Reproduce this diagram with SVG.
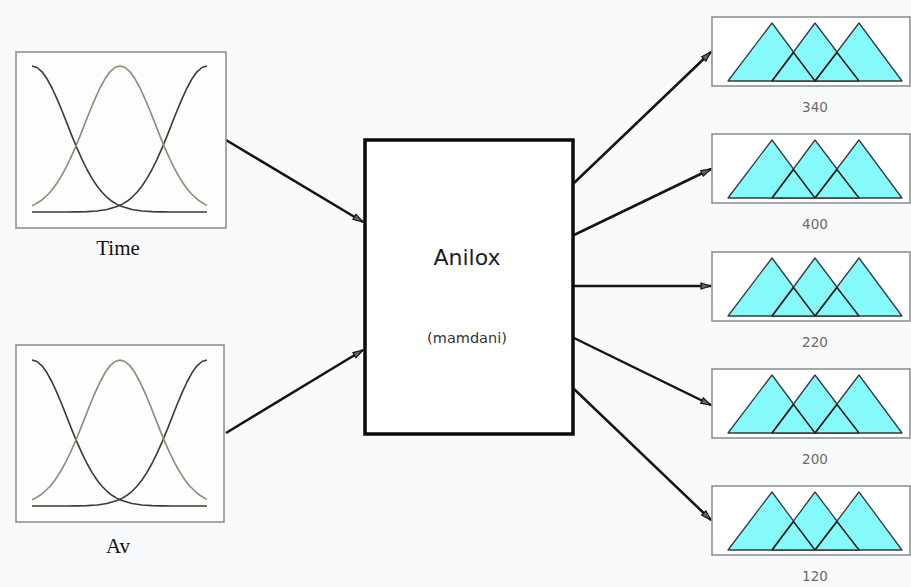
<svg xmlns="http://www.w3.org/2000/svg" xmlns:xlink="http://www.w3.org/1999/xlink" width="911" height="587" viewBox="0 0 911 587">
<style>
.inbox{fill:#fdfdfe;stroke:#8a8a8a;stroke-width:1.5}
.outbox{fill:#ffffff;stroke:#8a8a8a;stroke-width:1.5}
.c1{fill:none;stroke:#3c3c30;stroke-width:1.6;stroke-linejoin:round}
.c2{fill:none;stroke:#8c8c74;stroke-width:1.6;stroke-linejoin:round}
.tri{fill:#86fafa;stroke:#3a3a3a;stroke-width:1.3;stroke-linejoin:round}
.serif{font-family:"Liberation Serif","Times New Roman",serif;font-size:21px;fill:#111;text-anchor:middle}
.lbl{font-family:"DejaVu Sans",Verdana,sans-serif;font-size:13.5px;fill:#6a6a6a;text-anchor:middle}
.conn{stroke:#141414;stroke-width:2.5;fill:none;marker-end:url(#ah)}
</style>
<defs>
<marker id="ah" markerUnits="userSpaceOnUse" markerWidth="12" markerHeight="8" refX="11" refY="4" orient="auto">
<path d="M1,1 L11,4 L1,7 Z" fill="#666" stroke="#141414" stroke-width="1.2"/>
</marker>
<g id="mf">
<path class="c1" d="M32,66 L37,67.5 L42,71.8 L47,78.8 L52,88 L57,98.9 L62,110.8 L67,123.4 L72,136.1 L77,148.2 L82,159.4 L87,169.5 L92,178.4 L97,186 L102,192.2 L107,197.3 L112,201.3 L117,204.4 L122,206.6 L132,209.5 L142,211 L152,211.6 L162,211.9 L172,212 L207,212"/>
<path class="c1" d="M207,66 L202,67.5 L197,71.8 L192,78.8 L187,88 L182,98.9 L177,110.8 L172,123.4 L167,136.1 L162,148.2 L157,159.4 L152,169.5 L147,178.4 L142,186 L137,192.2 L132,197.3 L127,201.3 L122,204.4 L117,206.6 L107,209.5 L97,211 L87,211.6 L77,211.9 L67,212 L32,212"/>
<path class="c2" d="M32,205.8 L35,204.4 L40,201.3 L45,197.3 L50,192.2 L55,186 L60,178.4 L65,169.5 L70,159.4 L75,148.2 L80,136.1 L85,123.4 L90,110.8 L95,98.9 L100,88 L105,78.8 L110,71.8 L115,67.5 L120,66 L125,67.5 L130,71.8 L135,78.8 L140,88 L145,98.9 L150,110.8 L155,123.4 L160,136.1 L165,148.2 L170,159.4 L175,169.5 L180,178.4 L185,186 L190,192.2 L195,197.3 L200,201.3 L205,204.4 L207,205.4"/>
</g>
<g id="tris">
<rect class="outbox" x="0" y="0" width="198" height="69"/>
<path class="tri" d="M16,64 L60,6 L103,64 Z"/>
<path class="tri" d="M60,64 L103,6 L147,64 Z"/>
<path class="tri" d="M103,64 L147,6 L190,64 Z"/>
<path d="M60,64 L81.5,35.5 L103,64 L125,35.5 L147,64" fill="none" stroke="#1e1e1e" stroke-width="1.5" stroke-linejoin="round"/>
</g>
</defs>
<rect width="911" height="587" fill="#f9fafc"/>
<g id="connectors">
<line class="conn" x1="226" y1="140" x2="363" y2="222"/>
<line class="conn" x1="226" y1="433" x2="363" y2="350"/>
<line class="conn" x1="574" y1="183" x2="711" y2="52"/>
<line class="conn" x1="574" y1="235" x2="711" y2="169"/>
<line class="conn" x1="574" y1="286" x2="711" y2="286"/>
<line class="conn" x1="574" y1="338" x2="711" y2="405"/>
<line class="conn" x1="574" y1="389" x2="711" y2="520"/>
</g>
<g id="time">
<rect class="inbox" x="16" y="52" width="210" height="176"/>
<use xlink:href="#mf"/>
<text class="serif" x="118" y="255">Time</text>
</g>
<g id="av">
<rect class="inbox" x="16" y="345" width="208" height="177"/>
<use xlink:href="#mf" transform="translate(0,294)"/>
<text class="serif" x="118" y="553">Av</text>
</g>
<g id="anilox">
<rect x="365" y="140" width="208" height="294" fill="#ffffff" stroke="#0a0a0a" stroke-width="3.5"/>
<text x="467" y="265" font-family="DejaVu Sans, Verdana, sans-serif" font-size="22" fill="#1c1c28" text-anchor="middle">Anilox</text>
<text x="467" y="343" font-family="DejaVu Sans, Verdana, sans-serif" font-size="14.5" fill="#333" text-anchor="middle">(mamdani)</text>
</g>
<g id="out340">
<use xlink:href="#tris" transform="translate(712,17)"/>
<text class="lbl" x="815" y="112">340</text>
</g>
<g id="out400">
<use xlink:href="#tris" transform="translate(712,134)"/>
<text class="lbl" x="815" y="229">400</text>
</g>
<g id="out220">
<use xlink:href="#tris" transform="translate(712,252)"/>
<text class="lbl" x="815" y="347">220</text>
</g>
<g id="out200">
<use xlink:href="#tris" transform="translate(712,369)"/>
<text class="lbl" x="815" y="464">200</text>
</g>
<g id="out120">
<use xlink:href="#tris" transform="translate(712,486)"/>
<text class="lbl" x="815" y="581">120</text>
</g>
</svg>
